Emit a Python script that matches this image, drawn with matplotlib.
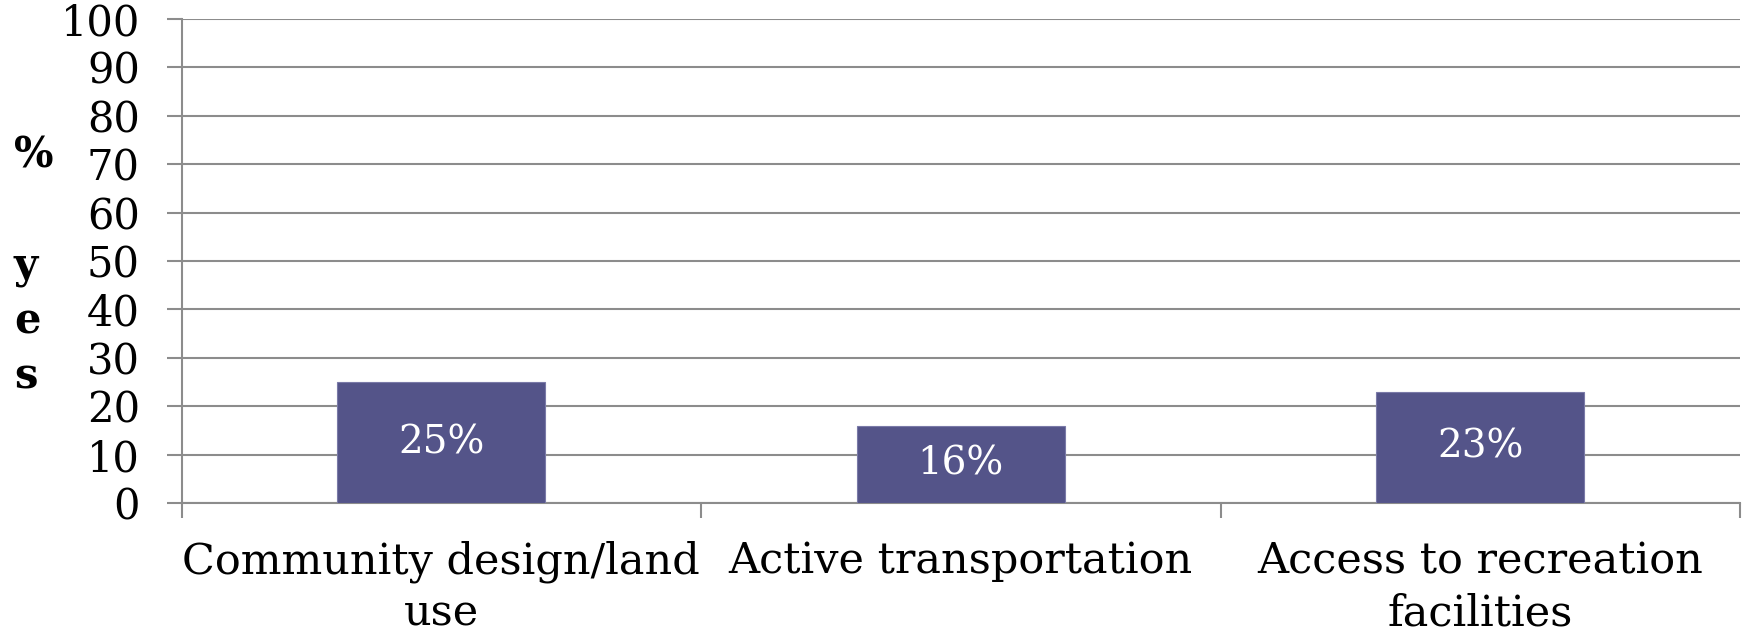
import matplotlib
matplotlib.use("Agg")
import matplotlib.pyplot as plt
import numpy as np

# data
categories = ["Community design/land\nuse", "Active transportation",
              "Access to recreation\nfacilities"]
values = [25, 16, 23]
yticks = list(range(0, 101, 10))

bar_color = "#545489"
grid_color = "#8c8c8c"

plt.rcParams['font.family'] = ['DejaVu Serif']

fig = plt.figure(figsize=(17.46, 6.36), dpi=100)
ax = fig.add_axes([181.5 / 1746, 1 - 503 / 636, (1740 - 181.5) / 1746, (503 - 19) / 636])

x = np.arange(len(categories))
bars = ax.bar(x, values, width=0.4, color=bar_color, edgecolor="#7a7aa8",
              linewidth=0.8, zorder=3)

# value labels in the middle of each bar
for b, v in zip(bars, values):
    ax.text(b.get_x() + b.get_width() / 2, v / 2, f"{v}%", color="white",
            ha="center", va="center", fontsize=28, zorder=4)

ax.set_ylim(0, 100)
ax.set_xlim(-0.5, len(categories) - 0.5)
ax.set_yticks(yticks)
ax.set_yticklabels([str(t) for t in yticks], fontsize=30)
ax.yaxis.grid(True, color=grid_color, linewidth=1.5, zorder=0)

# category boundaries as major ticks, labels on minor ticks
ax.set_xticks(np.arange(-0.5, len(categories), 1.0))
ax.set_xticklabels([])
ax.set_xticks(x, minor=True)
ax.set_xticklabels(categories, minor=True, fontsize=31, linespacing=1.3)
ax.tick_params(axis="x", which="minor", length=0, pad=27)
ax.tick_params(axis="x", which="major", length=11, width=1.5, color=grid_color)
ax.tick_params(axis="y", length=11, width=1.5, color=grid_color, pad=19)

for s in ["top", "right"]:
    ax.spines[s].set_visible(False)
for s in ["left", "bottom"]:
    ax.spines[s].set_color(grid_color)
    ax.spines[s].set_linewidth(1.5)

# stacked y label
fig.text(14 / 1746, 1 - 266 / 636, "%\n \ny\ne\ns", fontsize=30, fontweight="bold",
         ha="left", va="center", multialignment="left", linespacing=1.4)

fig.savefig("out.png", dpi=100)
